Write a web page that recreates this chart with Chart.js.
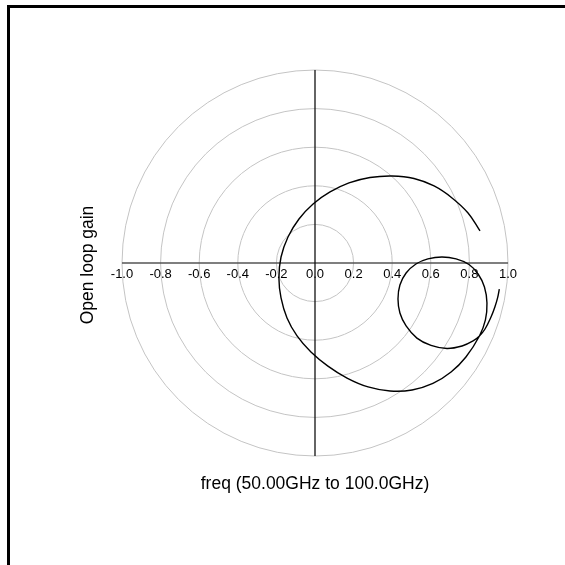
<!DOCTYPE html>
<html>
<head>
<meta charset="utf-8">
<script src="https://cdn.jsdelivr.net/npm/chart.js@4/dist/chart.umd.min.js"></script>
<style>
  html, body { margin: 0; padding: 0; background: #fff; overflow: hidden; }
  #wrap { position: relative; width: 565px; height: 565px; overflow: hidden; }
  #frame { position: absolute; left: 7px; top: 5px; width: 600px; height: 600px;
           border-left: 3px solid #000; border-top: 3px solid #000; box-sizing: border-box; }
  canvas { position: absolute; left: 0; top: 0; }
</style>
</head>
<body>
<div id="wrap">
  <div id="frame"></div>
  <canvas id="grafico" width="565" height="565"></canvas>
</div>
<script>
// Nyquist trace (real, imag) read off the picture, in drawing order:
// big loop, small loop, then the tail
const curvaRe = [0.855, 0.793, 0.710, 0.617, 0.513, 0.399, 0.285, 0.176, 0.078, -0.010, -0.083, -0.140, -0.176,
  -0.187, -0.176, -0.145, -0.093, -0.021, 0.067, 0.166, 0.275, 0.389, 0.503, 0.611, 0.705, 0.782, 0.852,
  0.883, 0.891, 0.878, 0.845, 0.798, 0.731, 0.658, 0.585, 0.523, 0.472, 0.440, 0.430, 0.440, 0.472, 0.528,
  0.601, 0.684, 0.762, 0.819, 0.852,
  0.881, 0.912, 0.932, 0.946, 0.955];
const curvaIm = [0.166, 0.259, 0.337, 0.399, 0.438, 0.451, 0.443, 0.415, 0.368, 0.306, 0.228, 0.135, 0.031,
  -0.078, -0.181, -0.285, -0.378, -0.461, -0.534, -0.596, -0.642, -0.663, -0.658, -0.624, -0.565, -0.487, -0.378,
  -0.295, -0.207, -0.124, -0.057, -0.008, 0.021, 0.031, 0.021, -0.005, -0.052, -0.114, -0.187, -0.259, -0.326, -0.389,
  -0.427, -0.443, -0.430, -0.404, -0.378,
  -0.342, -0.280, -0.228, -0.181, -0.135];

const raiosGrade = [0.2, 0.4, 0.6, 0.8, 1.0];
const ticksValores = [-1.0, -0.8, -0.6, -0.4, -0.2, 0.0, 0.2, 0.4, 0.6, 0.8, 1.0];
const ticksRotulos = ['-1.0', '-0.8', '-0.6', '-0.4', '-0.2', '0.0', '0.2', '0.4', '0.6', '0.8', '1.0'];
const tituloX = 'freq (50.00GHz to 100.0GHz)';
const tituloY = 'Open loop gain';

const fonte = '"Liberation Sans", Arial, sans-serif';

// grade polar, eixos e rótulos desenhados a partir das escalas
const gradePolar = {
  id: 'gradePolar',
  beforeDatasetsDraw(chart) {
    const ctx = chart.ctx;
    const sx = chart.scales.x, sy = chart.scales.y;
    const cx = sx.getPixelForValue(0), cy = sy.getPixelForValue(0);
    ctx.save();

    ctx.strokeStyle = '#c4c4c4';
    ctx.lineWidth = 1;
    raiosGrade.forEach(r => {
      const rp = sx.getPixelForValue(r) - cx;
      ctx.beginPath();
      ctx.arc(cx, cy, rp, 0, Math.PI * 2);
      ctx.stroke();
    });

    // rótulos dos ticks
    ctx.fillStyle = '#000';
    ctx.font = '13px ' + fonte;
    ctx.textAlign = 'center';
    ctx.textBaseline = 'middle';
    ticksValores.forEach((v, i) => {
      ctx.fillText(ticksRotulos[i], sx.getPixelForValue(v), cy + 11);
    });

    // eixo horizontal
    ctx.strokeStyle = '#555';
    ctx.lineWidth = 1.5;
    ctx.beginPath();
    ctx.moveTo(sx.getPixelForValue(-1), cy);
    ctx.lineTo(sx.getPixelForValue(1), cy);
    ctx.stroke();

    // eixo vertical
    ctx.strokeStyle = '#111';
    ctx.lineWidth = 1.3;
    ctx.beginPath();
    ctx.moveTo(cx, sy.getPixelForValue(1));
    ctx.lineTo(cx, sy.getPixelForValue(-1));
    ctx.stroke();

    // títulos
    ctx.font = '17.5px ' + fonte;
    ctx.fillText(tituloX, cx, sy.getPixelForValue(-1) + 28);
    ctx.translate(88, cy + 2);
    ctx.rotate(-Math.PI / 2);
    ctx.fillText(tituloY, 0, 0);
    ctx.restore();
  }
};

const ctx = document.getElementById('grafico').getContext('2d');
const grafico = new Chart(ctx, {
  type: 'scatter',
  data: {
    datasets: [{
      data: curvaRe.map((x, i) => ({ x, y: curvaIm[i] })),
      showLine: true,
      borderColor: '#000',
      borderWidth: 1.4,
      pointRadius: 0,
      tension: 0.4,
      fill: false,
      clip: false,
    }],
  },
  options: {
    responsive: false,
    animation: false,
    layout: { padding: { left: 122, right: 57, top: 70, bottom: 109 } },
    plugins: { legend: { display: false }, tooltip: { enabled: false } },
    scales: {
      x: { type: 'linear', min: -1, max: 1, display: false },
      y: { type: 'linear', min: -1, max: 1, display: false },
    },
  },
  plugins: [gradePolar],
});
</script>
</body>
</html>
